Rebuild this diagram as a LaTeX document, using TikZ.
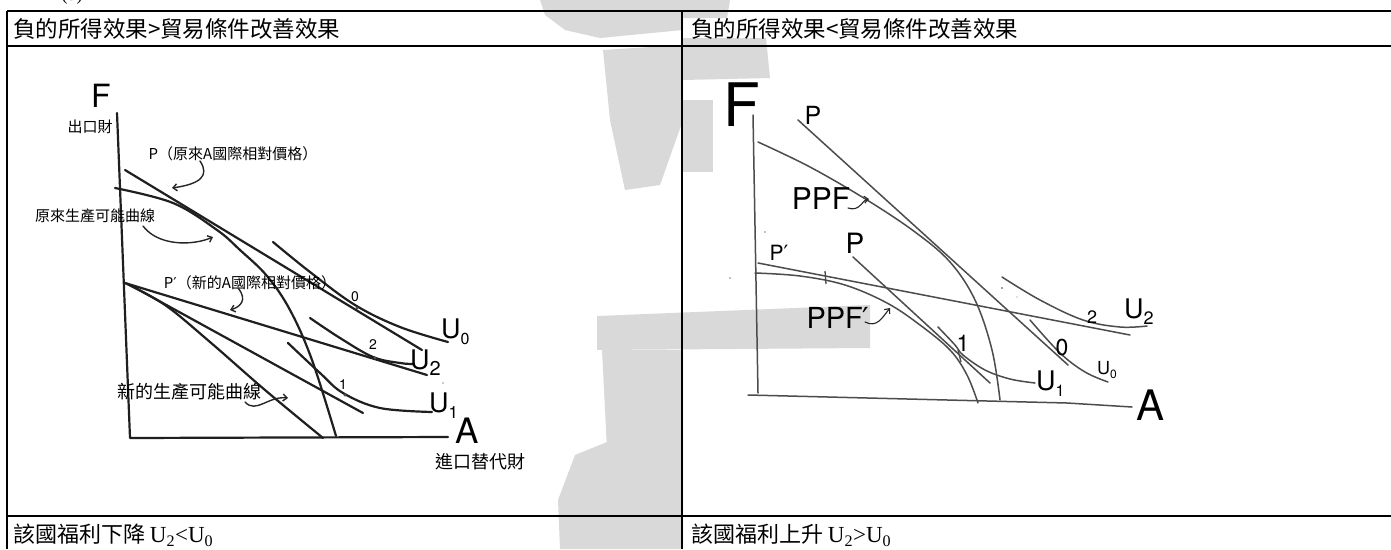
\documentclass[tikz,border=0pt]{standalone}
\usepackage{fontspec}
\setmainfont{Liberation Serif}
\newfontfamily\cjk{Noto Sans CJK TC}
\newfontfamily\hs{TeX Gyre Heros}
\newfontfamily\dv{DejaVu Sans}
\usetikzlibrary{arrows.meta}
\newcommand\fsz[1]{\fontsize{#1}{#1}\selectfont}
\newcommand\usb[2]{U\raisebox{-0.22em}{\fsz{#1}#2}}
\newcommand\prm{{\dv ′}}
\begin{document}
\begin{tikzpicture}[x=1pt,y=-1pt,
  tbl/.style={line width=2.3pt,black},
  wm/.style={fill=black!15,draw=none},
  hand/.style={line width=2.2pt,draw=black!88,line cap=round,line join=round},
  handr/.style={line width=1.5pt,draw=black!70,line cap=round,line join=round},
  curl/.style={line width=1.4pt,draw=black!85,line cap=round,-{Straight Barb[length=4pt,width=7pt]}},
  lbl/.style={inner sep=0pt,outer sep=0pt},
  tick/.style={line width=1.3pt,draw=black!70},
  speck/.style={fill=black!50,draw=none}]
\useasboundingbox (0,0) rectangle (1391,549);
\fill[white] (0,0) rectangle (1391,549);
% ---------- watermark ----------
\fill[wm] (540,0) -- (683,0) -- (683,30) -- (600,38) -- (565,30) -- (545,15) -- cycle;
\fill[wm] (603,50) -- (683,45) -- (683,120) -- (660,185) -- (625,190) -- (610,120) -- cycle;
\fill[wm] (683,0) -- (730,0) -- (727,18) -- (683,18) -- cycle;
\fill[wm] (683,38) -- (766,38) -- (770,78) -- (683,80) -- cycle;
\fill[wm] (683,100) -- (713,100) -- (713,172) -- (683,172) -- cycle;
\fill[wm] (597,316) -- (870,305) -- (870,348) -- (597,350) -- cycle;
\fill[wm] (602,350) -- (683,350) -- (683,549) -- (612,549) -- cycle;
\fill[wm] (612,440) -- (575,455) -- (558,500) -- (560,549) -- (612,549) -- cycle;
% ---------- table ----------
\draw[tbl] (7,11) -- (1391,11);
\draw[tbl] (7,46) -- (1391,46);
\draw[tbl] (7,516) -- (1391,516);
\draw[tbl] (7,11) -- (7,549);
\draw[tbl] (682,11) -- (682,549);
\node[lbl,anchor=south,font=\fsz{18}] (num) at (72,4) {(3)};
\node[lbl,anchor=west,font=\cjk\fsz{22.5}] (head1) at (13,29) {負的所得效果>貿易條件改善效果};
\node[lbl,anchor=west,font=\cjk\fsz{22.5}] (head2) at (691,29) {負的所得效果<貿易條件改善效果};
\node[lbl,anchor=west,font=\cjk\fsz{22}] (foot1) at (13,535) {該國福利下降 \textrm{\fsz{23}U\textsubscript{2}<U\textsubscript{0}}};
\node[lbl,anchor=west,font=\cjk\fsz{22}] (foot2) at (691,535) {該國福利上升 \textrm{\fsz{23}U\textsubscript{2}>U\textsubscript{0}}};
% ---------- left graph ----------
\draw[hand] (117,113) -- (130,438) -- (448,437);
\node[lbl,font=\hs\fsz{32}] (Fl) at (101,96) {F};
\node[lbl,font=\cjk\fsz{15}] (expl) at (90,127) {出口財};
\node[lbl,font=\hs\fsz{35}] (Al) at (467,431) {A};
\node[lbl,font=\cjk\fsz{18}] (impl) at (480,462) {進口替代財};
% P line and original PPF
\draw[hand] (125,170) -- (422,350);
\draw[hand] plot[smooth,tension=0.6] coordinates {(115,188) (173,203) (217,230) (240,250) (267,276) (290,310) (312,360) (336,436)};
% U0
\draw[hand] plot[smooth,tension=0.6] coordinates {(273,242) (310,272) (355,305) (400,327) (448,342)};
% P' line, new PPF, parallel line
\draw[hand] (125,283) -- (427,375);
\draw[hand] plot[smooth,tension=0.6] coordinates {(125,283) (165,305) (210,342) (265,390) (323,438)};
\draw[hand] (130,285) -- (363,413);
% U2, U1
\draw[hand] plot[smooth,tension=0.6] coordinates {(310,318) (340,338) (373,357) (400,363) (414,364)};
\draw[hand] plot[smooth,tension=0.6] coordinates {(288,343) (320,373) (343,393) (380,408) (432,412)};
\node[lbl,font=\hs\fsz{14}] (zl) at (355,297) {0};
\node[lbl,font=\hs\fsz{14}] (tl) at (373,345) {2};
\node[lbl,font=\hs\fsz{14}] (ol) at (343,385) {1};
\node[lbl,font=\hs\fsz{27},anchor=west] (U0l) at (441,332) {\usb{16}{0}};
\node[lbl,font=\hs\fsz{27},anchor=west] (U2l) at (410,363) {\usb{20}{2}};
\node[lbl,font=\hs\fsz{27},anchor=west] (U1l) at (429,406) {\usb{17}{1}};
\fill[black!70] (357,308) circle (1.6);
\fill[black!70] (375,358) circle (1.6);
\fill[black!70] (345,395) circle (1.6);
% labels with curly arrows
\node[lbl,font=\cjk\fsz{15}] (Plab) at (233,154) {P（原來A國際相對價格）};
\node[lbl,font=\cjk\fsz{15}] (ppfo) at (95,216) {原來生產可能曲線};
\node[lbl,font=\cjk\fsz{15}] (Pplab) at (250,283) {P\prm（新的A國際相對價格）};
\node[lbl,font=\cjk\fsz{18}] (ppfn) at (189,392) {新的生產可能曲線};
\coordinate (ea) at (172,188);
\coordinate (eb) at (213,237);
\coordinate (ec) at (230,310);
\coordinate (ed) at (288,398);
\draw[curl] (200,161) .. controls (210,176) and (200,184) .. (ea);
\draw[curl] (143,226) .. controls (158,246) and (192,246) .. (eb);
\draw[curl] (238,288) .. controls (248,300) and (240,307) .. (ec);
\draw[curl] (245,402) .. controls (256,414) and (268,396) .. (ed);
\fill[black!40] (443,383) circle (0.8);
% ---------- right graph ----------
\draw[handr] (753,115) -- (758,393);
\draw[handr] (748,395) -- (1067,403) -- (1132,407);
\node[lbl,font=\hs\fsz{60}] (Fr) at (742,105) {F};
\node[lbl,font=\hs\fsz{42}] (Ar) at (1150,405) {A};
% upper P and PPF
\draw[handr] (798,120) -- (1068,365);
\node[lbl,font=\hs\fsz{25}] (Pr1) at (813,115) {P};
\draw[handr] plot[smooth,tension=0.6] coordinates {(758,142) (810,167) (867,200) (915,232) (950,262) (975,300) (992,350) (1000,400)};
\node[lbl,font=\hs\fsz{30}] (PPFr) at (821,199) {PPF};
\draw[curl,line width=1.1pt] (848,208) .. controls (860,212) and (862,200) .. (869,199);
% P' line and PPF'
\draw[handr] (758,263) -- (1130,335);
\node[lbl,font=\hs\fsz{21}] (Ppr) at (779,253) {P\prm};
\draw[handr] plot[smooth,tension=0.6] coordinates {(755,273) (800,276) (845,285) (887,303) (920,325) (950,350) (967,375) (978,403)};
\draw[tick] (825,271) -- (826,284);
\node[lbl,font=\hs\fsz{29}] (PPFpr) at (838,318) {PPF\prm};
\draw[curl,line width=1.1pt] (865,322) .. controls (877,328) and (882,318) .. (890,308);
% middle P and U1
\draw[handr] (853,257) -- (990,383);
\node[lbl,font=\hs\fsz{28}] (Pr2) at (855,243) {P};
\draw[handr] plot[smooth,tension=0.6] coordinates {(938,327) (955,345) (963,355) (985,370) (1010,379) (1035,383)};
\draw[tick] (958,350) -- (961,362);
\node[lbl,font=\hs\fsz{23}] (or) at (963,343) {1};
\node[lbl,font=\hs\fsz{27},anchor=west] (U1r) at (1036,384) {\usb{16}{1}};
% U0
\draw[handr] plot[smooth,tension=0.6] coordinates {(1030,320) (1060,353) (1085,372) (1108,382)};
\node[lbl,font=\hs\fsz{23}] (zr) at (1062,348) {0};
\node[lbl,font=\hs\fsz{18},anchor=west] (U0r) at (1097,370) {\usb{12}{0}};
% U2
\draw[handr] plot[smooth,tension=0.6] coordinates {(1002,277) (1040,300) (1083,320) (1120,327) (1147,326)};
\node[lbl,font=\hs\fsz{18}] (tr) at (1092,317) {2};
\node[lbl,font=\hs\fsz{27},anchor=west] (U2r) at (1124,312) {\usb{18}{2}};
% specks
\fill[speck] (730,278) circle (0.9);
\fill[speck] (765,232) circle (0.9);
\fill[speck] (1002,288) circle (1.1);
\fill[speck] (1017,297) circle (0.7);
\end{tikzpicture}
\end{document}
